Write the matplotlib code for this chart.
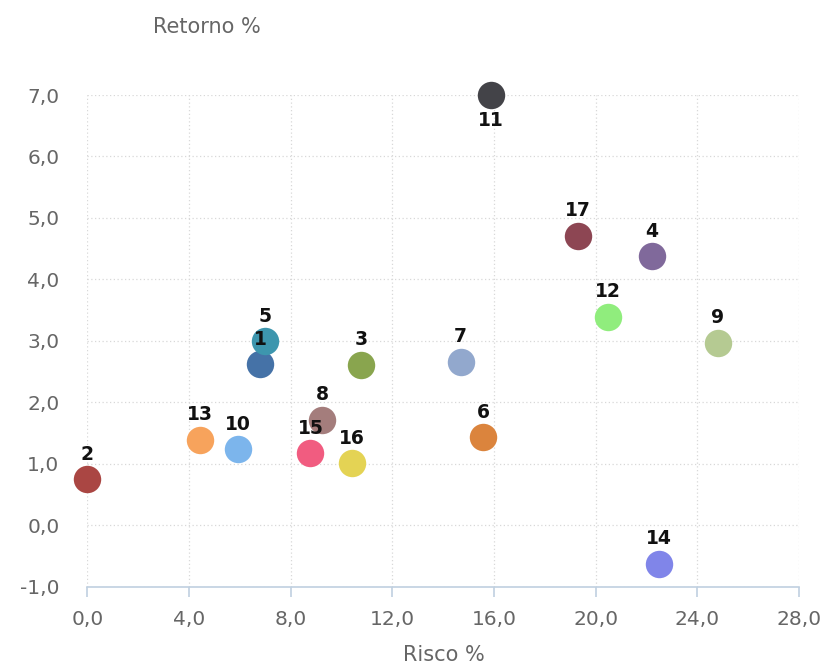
import matplotlib

matplotlib.use("Agg")
import matplotlib.pyplot as plt

plt.rcParams["font.family"] = ["DejaVu Sans"]

# fund id, risk (x) and return (y)
labels = ["1", "2", "3", "4", "5", "6", "7", "8", "9", "10",
          "11", "12", "13", "14", "15", "16", "17"]
risco = [6.81, 0.0, 10.77, 22.2, 7.0, 15.57, 14.69, 9.24, 24.8, 5.94,
         15.88, 20.47, 4.44, 22.5, 8.78, 10.42, 19.29]
retorno = [2.62, 0.75, 2.61, 4.38, 2.99, 1.43, 2.66, 1.72, 2.97, 1.24,
           7.0, 3.39, 1.39, -0.63, 1.17, 1.01, 4.71]
cores = ["#4572A7", "#AA4643", "#89A54E", "#80699B", "#3D96AE", "#DB843D",
         "#92A8CD", "#A47D7C", "#B5CA92", "#7cb5ec", "#434348", "#90ed7d",
         "#f7a35c", "#8085e9", "#f15c80", "#e4d354", "#8d4653"]
xticks = [0, 4, 8, 12, 16, 20, 24, 28]
yticks = [-1, 0, 1, 2, 3, 4, 5, 6, 7]

GRID, AXIS, TXT = "#d8d8d8", "#c0d0e0", "#666666"

fig = plt.figure(figsize=(8.26, 6.65), dpi=100)
ax = fig.add_axes([0.1057, 0.1178, 0.8616, 0.7393])
ax.set_xlim(0, 28); ax.set_ylim(-1, 7)

for x, y, c, lab in zip(risco, retorno, cores, labels):
    ax.scatter(x, y, s=390, color=c, zorder=3, clip_on=False, linewidths=0)
    dy = -18 if lab == "11" else 18
    ax.annotate(lab, (x, y), xytext=(0, dy), textcoords="offset points",
                ha="center", va="center", fontsize=13.5, fontweight="bold",
                color="#111111", zorder=4)

ax.set_xticks(xticks)
ax.set_xticklabels([f"{v:.1f}".replace(".", ",") for v in xticks])
ax.set_yticks(yticks)
ax.set_yticklabels([f"{v:.1f}".replace(".", ",") for v in yticks])
ax.grid(True, color=GRID, linestyle=(0, (1, 2)), linewidth=0.9, zorder=0)
for s in ["top", "right", "left"]:
    ax.spines[s].set_visible(False)
ax.spines["bottom"].set_color(AXIS)
ax.spines["bottom"].set_linewidth(1.2)
ax.tick_params(axis="x", colors=AXIS, length=7.5, width=1.2, labelcolor=TXT,
               labelsize=14.5, pad=9)
ax.tick_params(axis="y", length=0, labelcolor=TXT, labelsize=14.5, pad=20)

fig.text(207 / 826, 1 - 27 / 665, "Retorno %", ha="center", va="center",
         fontsize=15, color=TXT)
fig.text(444 / 826, 1 - 655 / 665, "Risco %", ha="center", va="center",
         fontsize=15, color=TXT)

fig.savefig("out.png", dpi=100)
